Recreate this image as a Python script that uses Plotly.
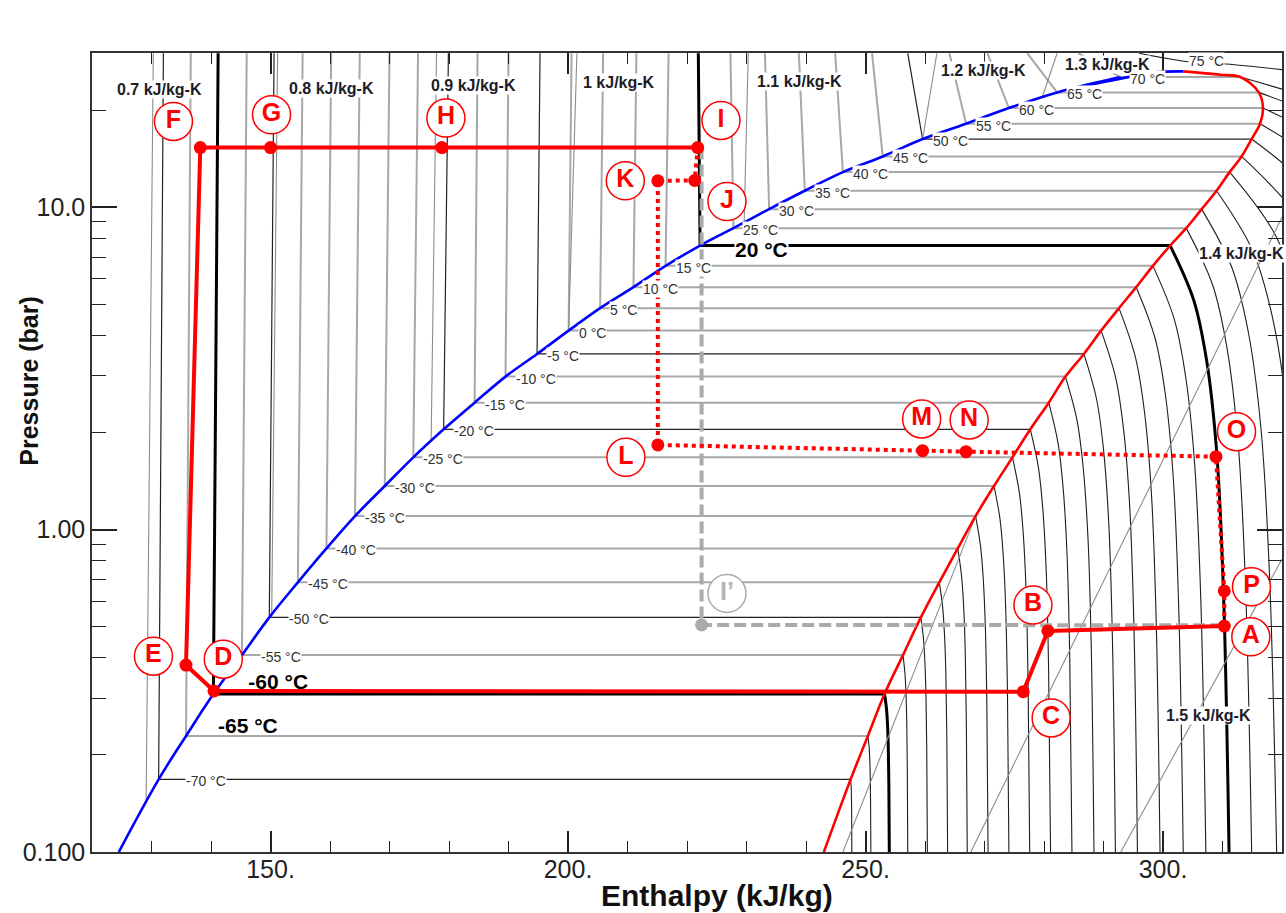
import numpy as np
import plotly.graph_objects as go

FONT = "Liberation Sans, Arial, sans-serif"

# ---------------------------------------------------------------------------
# Saturation table: temperature (°C), pressure (bar), liquid / vapour enthalpy
# ---------------------------------------------------------------------------
T_sat = [-70, -65, -60, -55, -50, -45, -40, -35, -30, -25, -20, -15, -10, -5,
         0, 5, 10, 15, 20, 25, 30, 35, 40, 45, 50, 55, 60, 65, 70]
P_sat = [0.168, 0.229, 0.309, 0.408, 0.534, 0.686, 0.874, 1.101, 1.365, 1.675,
         2.046, 2.475, 2.981, 3.505, 4.140, 4.860, 5.646, 6.574, 7.600, 8.607,
         9.858, 11.24, 12.84, 14.36, 16.26, 18.14, 20.29, 22.69, 25.32]
h_liq = [131.2, 135.8, 140.4, 145.2, 149.8, 154.6, 159.4, 164.2, 169.2, 174.0,
         179.1, 184.3, 189.5, 194.8, 200.1, 205.4, 211.0, 216.4, 222.2, 227.8,
         233.8, 239.8, 246.2, 252.9, 259.6, 266.9, 274.1, 282.2, 292.8]
h_vap = [247.5, 250.4, 253.2, 256.3, 259.3, 262.4, 265.5, 268.5, 271.6, 274.7,
         277.7, 280.8, 283.6, 286.7, 289.6, 292.6, 295.5, 298.3, 301.2, 303.9,
         306.5, 309.0, 311.2, 313.2, 314.9, 316.3, 316.8, 316.1, 313.0]
# liquid-side isotherm enthalpy at the top of the chart (30 bar)
h_liq_top = [132.0, 136.6, 141.2, 146.0, 150.6, 155.4, 160.2, 165.0, 170.0, 174.8,
             179.9, 184.8, 190.0, 195.3, 200.6, 205.9, 211.5, 216.9, 221.9, 227.3,
             233.1, 238.8, 244.9, 251.1, 257.1, 264.1, 270.5, 277.2, 285.8]
# vapour-side isotherm enthalpy at 0.1 bar
h_vap_low = [247.7, 250.9, 254.0, 257.1, 260.4, 263.8, 267.1, 270.6, 274.1, 277.6,
             281.1, 284.7, 288.4, 292.0, 295.7, 299.5, 303.4, 307.2, 311.1, 314.9,
             319.1, 324.1, 330.0, 337.5, 345.9, 355.9, 367.6, 381.0, 397.8]

# dome ends
liq_low_h, liq_low_P = 124.5, 0.1
vap_low_h, vap_low_P = 243.0, 0.1
liq_crit_h, liq_crit_P = [287.6, 298.7], [23.95, 26.17]
vap_crit_h, vap_crit_P = [309.6], [25.74]
crit_h, crit_P = 303.4, 26.36

# supercritical 75 °C isotherm
t75_h = [296.0, 303.9, 310.6, 320.0]
t75_P = [30.0, 28.3, 27.8, 26.7]

# superheated isotherm profile (fraction of log-pressure drop vs fraction of enthalpy rise)
prof_u = [0.0, 0.09, 0.19, 0.34, 0.57, 1.0]
prof_f = [0.0, 0.40, 0.62, 0.79, 0.905, 1.0]

# isentropes in the liquid region (kJ/kg-K)
s_liq = [0.7, 0.8, 0.9, 1.0, 1.1, 1.2, 1.3]
s_liq_h0 = [129.1, 150.2, 177.0, 200.1, 229.6, 259.6, 279.7]
s_liq_P0 = [0.1447, 0.5395, 1.896, 4.140, 9.00, 16.26, 21.92]
s_liq_htop = [130.3, 151.2, 177.9, 201.5, 230.3, 262.0, 282.2]
# isentropes in the vapour region
s_vap_h = [[268.5, 246.2], [267.7, 320.0], [292.9, 320.0]]
s_vap_P = [[1.101, 0.1], [0.1, 9.3], [0.1, 0.81]]

# entropy labels
s_lab = ["0.7 kJ/kg-K", "0.8 kJ/kg-K", "0.9 kJ/kg-K", "1 kJ/kg-K", "1.1 kJ/kg-K",
         "1.2 kJ/kg-K", "1.3 kJ/kg-K", "1.4 kJ/kg-K", "1.5 kJ/kg-K"]
s_lab_h = [131.3, 160.2, 184.1, 208.5, 238.9, 269.9, 290.6, 305.9, 307.6]
s_lab_P = [23.1, 23.3, 23.8, 24.3, 24.5, 26.5, 27.7, 7.20, 0.2656]

# refrigeration cycle state points
pt_name = ["A", "B", "C", "D", "E", "F", "G", "H", "I", "J", "K", "L", "M", "N", "O", "P"]
pt_h = [310.3, 280.65, 276.5, 140.5, 135.8, 138.2, 150.0, 178.8, 221.8, 221.3,
        215.1, 215.1, 259.6, 266.9, 308.9, 310.3]
pt_P = [0.502, 0.485, 0.314, 0.316, 0.38, 15.3, 15.3, 15.3, 15.3, 12.1,
        12.07, 1.83, 1.757, 1.744, 1.683, 0.645]
lab_h = [314.76, 278.14, 281.2, 142.06, 130.33, 133.69, 150.17, 179.48, 225.71, 226.72,
         209.63, 209.73, 259.43, 267.42, 312.36, 314.87]
lab_P = [0.4649, 0.5831, 0.2605, 0.3963, 0.4049, 18.44, 19.34, 18.89, 18.57, 10.41,
         12.07, 1.675, 2.203, 2.188, 2.012, 0.6645]
solid_path = ["I", "H", "G", "F", "E", "D", "C", "B", "A"]
dotted_path = ["I", "J", "K", "L", "M", "N", "O", "P", "A"]
# isentropic reference state I'
ip_h, ip_P = 222.45, 0.506
ip_lab_h, ip_lab_P = 226.72, 0.634
ref_path_h = [222.45, 222.45, 310.3]
ref_path_P = [15.3, 0.506, 0.505]

P_TOP = 30.0
P_BOT = 0.1

bold_T = {-60, 20}
dark_T = {-70, -50, -20, -5, 50}
RED = "#ff0000"

fig = go.Figure()


def add_line(xs, ys, color, width, dash="solid", shape="linear"):
    fig.add_trace(go.Scatter(x=xs, y=ys, mode="lines", hoverinfo="skip",
                             line=dict(color=color, width=width, dash=dash, shape=shape)))


# --- isotherms: liquid branch + two-phase plateau ---
groups = {"gray": ([], []), "dark": ([], []), "bold": ([], [])}
for i, T in enumerate(T_sat):
    key = "bold" if T in bold_T else ("dark" if T in dark_T else "gray")
    gx, gy = groups[key]
    gx += [h_liq_top[i], h_liq[i], h_vap[i], None]
    gy += [P_TOP, P_sat[i], P_sat[i], None]

for key, color, width in [("gray", "#a8a8a8", 2.0), ("dark", "#222222", 1.2),
                          ("bold", "#000000", 3.0)]:
    add_line(groups[key][0], groups[key][1], color, width)

# --- isotherms: superheated vapour branch ---
for i, T in enumerate(T_sat):
    lp0 = np.log10(P_sat[i])
    span = lp0 - np.log10(P_BOT)
    xs = [h_vap[i] + f * (h_vap_low[i] - h_vap[i]) for f in prof_f]
    ys = [10 ** (lp0 - u * span) for u in prof_u]
    if T in bold_T:
        add_line(xs, ys, "#000000", 3.0, shape="spline")
    else:
        add_line(xs, ys, "#1e1e1e", 1.1, shape="spline")

add_line(t75_h, t75_P, "#1e1e1e", 1.1, shape="spline")

# --- isentropes ---
sx, sy = [], []
for i in range(len(s_liq)):
    sx += [s_liq_h0[i], s_liq_htop[i], None]
    sy += [s_liq_P0[i], P_TOP, None]
for hs, ps in zip(s_vap_h, s_vap_P):
    sx += hs + [None]
    sy += ps + [None]
add_line(sx, sy, "#8c8c8c", 1.1)

# --- saturation dome ---
add_line([liq_low_h] + h_liq + liq_crit_h + [crit_h],
         [liq_low_P] + P_sat + liq_crit_P + [crit_P], "#0000ff", 2.6, shape="spline")
add_line([vap_low_h] + h_vap + vap_crit_h + [crit_h],
         [vap_low_P] + P_sat + vap_crit_P + [crit_P], RED, 2.6, shape="spline")

# label that sits beneath the cycle line
fig.add_trace(go.Scatter(x=[151.3], y=[10 ** -0.4795], mode="text", text=["-60 °C"],
                         textfont=dict(family=FONT, size=21, color="#000000", weight="bold"),
                         hoverinfo="skip"))

# --- cycle ---
idx = {n: k for k, n in enumerate(pt_name)}
add_line(ref_path_h, ref_path_P, "#aaaaaa", 4, dash="12px,5px")
add_line([pt_h[idx[n]] for n in solid_path], [pt_P[idx[n]] for n in solid_path], RED, 4)
add_line([pt_h[idx[n]] for n in dotted_path], [pt_P[idx[n]] for n in dotted_path], RED, 4,
         dash="dot")

fig.add_trace(go.Scatter(x=[ip_h], y=[ip_P], mode="markers", hoverinfo="skip",
                         marker=dict(size=13, color="#aaaaaa")))
fig.add_trace(go.Scatter(x=pt_h, y=pt_P, mode="markers", hoverinfo="skip",
                         marker=dict(size=13, color=RED)))

# circled point letters
fig.add_trace(go.Scatter(x=lab_h, y=lab_P, mode="markers+text", text=pt_name,
                         textposition="middle center", hoverinfo="skip",
                         marker=dict(size=38, color="white", line=dict(color=RED, width=1.5)),
                         textfont=dict(family=FONT, size=25, color=RED, weight="bold")))
fig.add_trace(go.Scatter(x=[ip_lab_h], y=[ip_lab_P], mode="markers+text", text=["I’"],
                         textposition="middle center", hoverinfo="skip",
                         marker=dict(size=38, color="white", line=dict(color="#aaaaaa", width=1.5)),
                         textfont=dict(family=FONT, size=25, color="#b4b4b4", weight="bold")))

annotations = []
# temperature labels on the plateau lines
extra_shift = {-70: 26, -55: 18, -50: 19}
for i, T in enumerate(T_sat):
    if T in (-65, -60, 20):
        continue
    annotations.append(dict(x=h_liq[i], y=np.log10(P_sat[i]), text=f"{T} °C",
                            xanchor="left", yanchor="middle", showarrow=False,
                            xshift=extra_shift.get(T, 9), yshift=-2,
                            bgcolor="white", borderpad=0,
                            font=dict(family=FONT, size=14, color="#333333")))
annotations.append(dict(x=307.3, y=np.log10(28.31), text="75 °C", showarrow=False,
                        bgcolor="white", borderpad=0,
                        font=dict(family=FONT, size=14, color="#333333")))
annotations.append(dict(x=232.5, y=0.8675, text="<b>20 °C</b>", showarrow=False,
                        bgcolor="white", borderpad=0,
                        font=dict(family=FONT, size=21, color="#000000")))
annotations.append(dict(x=146.25, y=-0.6068, text="<b>-65 °C</b>", showarrow=False,
                        font=dict(family=FONT, size=21, color="#000000")))

# entropy labels
for k, txt in enumerate(s_lab):
    annotations.append(dict(x=s_lab_h[k], y=np.log10(s_lab_P[k]), text=f"<b>{txt}</b>",
                            showarrow=False, bgcolor="white", borderpad=0,
                            xanchor="left" if txt.startswith("1.4") else "center",
                            font=dict(family=FONT, size=16, color="#1c1c28")))

# axis titles
annotations.append(dict(xref="paper", yref="paper", x=0.525, y=-0.054,
                        xanchor="center", yanchor="middle",
                        text="<b>Enthalpy (kJ/kg)</b>", showarrow=False,
                        font=dict(family=FONT, size=30, color="#111111")))
annotations.append(dict(xref="paper", yref="paper", x=-0.0537, y=0.59,
                        xanchor="center", yanchor="middle",
                        text="<b>Pressure (bar)</b>", showarrow=False, textangle=-90,
                        font=dict(family=FONT, size=25, color="#111111")))

x_major = [150, 200, 250, 300]
x_minor = [130, 140, 160, 170, 180, 190, 210, 220, 230, 240, 260, 270, 280, 290, 310]
y_major = [0.1, 1, 10]
y_minor = [0.2, 0.3, 0.4, 0.5, 0.6, 0.7, 0.8, 0.9, 2, 3, 4, 5, 6, 7, 8, 9, 20]

fig.update_layout(
    width=1286, height=913,
    margin=dict(l=92, r=2, t=53, b=61),
    plot_bgcolor="white", paper_bgcolor="white",
    showlegend=False,
    annotations=annotations,
    xaxis=dict(range=[120, 320], tickvals=x_major,
               ticktext=["150.", "200.", "250.", "300."],
               ticks="inside", ticklen=21, tickwidth=1.5, tickcolor="#222222",
               minor=dict(tickvals=x_minor, ticks="inside", ticklen=11, tickwidth=1.3,
                          tickcolor="#222222"),
               showline=True, linecolor="#333333", linewidth=1.5, mirror="ticks",
               showgrid=False, zeroline=False, ticklabelstandoff=-6,
               tickfont=dict(family=FONT, size=25, color="#222222")),
    yaxis=dict(type="log", range=[-1, 1.478], tickvals=y_major,
               ticktext=["0.100", "1.00", "10.0"],
               ticks="inside", ticklen=25, tickwidth=1.5, tickcolor="#222222",
               minor=dict(tickvals=y_minor, ticks="inside", ticklen=14, tickwidth=1.3,
                          tickcolor="#222222"),
               showline=True, linecolor="#333333", linewidth=1.5, mirror="ticks",
               showgrid=False, zeroline=False,
               tickfont=dict(family=FONT, size=25, color="#222222")),
)

fig.write_html("out.html")
